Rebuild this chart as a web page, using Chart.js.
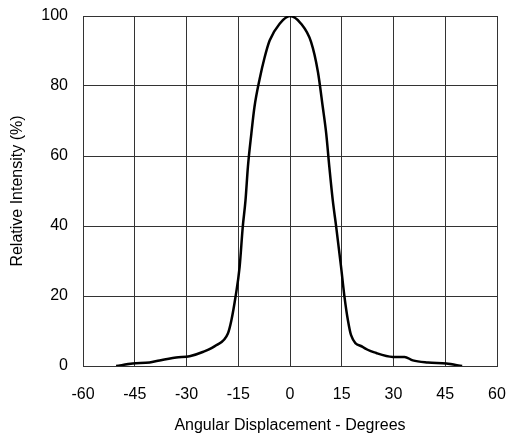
<!DOCTYPE html>
<html>
<head>
<meta charset="utf-8">
<script src="https://cdn.jsdelivr.net/npm/chart.js@4/dist/chart.umd.min.js"></script>
<style>
  html, body { margin: 0; padding: 0; background: #fff; }
  #wrap { width: 509px; height: 439px; }
</style>
</head>
<body>
<div id="wrap"><canvas id="c" width="509" height="439"></canvas></div>
<script>
const angles = [-50.4, -45.6, -40.7, -37.8, -33.0, -29.1, -25.3, -21.4, -18.0, -17.0, -15.8, -14.6, -13.7, -12.9, -12.2, -11.2, -10.3, -8.8, -7.4, -5.9, -3.0, 0, 3.2, 6.1, 8.1, 9.5, 10.5, 11.4, 12.4, 13.4, 14.8, 15.8, 16.8, 17.7, 21.1, 25.0, 29.8, 33.2, 35.6, 40.0, 45.3, 49.9]
const intensity = [0, 0.7, 1.0, 1.6, 2.4, 2.8, 4.0, 5.9, 9.3, 13, 19.7, 28.3, 39.7, 47.3, 56.9, 66.4, 74, 82, 88, 93, 97.8, 100, 97.8, 92.6, 84, 74, 66.4, 56.9, 47.3, 39.7, 28.3, 19.7, 13, 8.8, 5.4, 3.7, 2.6, 2.6, 1.6, 1.0, 0.7, 0]
const xTicks = [-60, -45, -30, -15, 0, 15, 30, 45, 60]
const yTicks = [0, 20, 40, 60, 80, 100]

const font = { family: "'Liberation Sans', Arial, sans-serif", size: 16 }
const gridColor = "#333"

new Chart(document.getElementById("c").getContext("2d"), {
  type: "line",
  data: {
    datasets: [
      {
        data: angles.map((a, i) => ({ x: a, y: intensity[i] })),
        borderColor: "#000",
        borderWidth: 2.5,
        pointRadius: 0,
        cubicInterpolationMode: "monotone",
        fill: false
      }
    ]
  },
  options: {
    responsive: false,
    animation: false,
    layout: { padding: { top: 16, right: 12, left: 0, bottom: 0 } },
    plugins: { legend: { display: false }, tooltip: { enabled: false } },
    scales: {
      x: {
        type: "linear",
        min: xTicks[0],
        max: xTicks[xTicks.length - 1],
        afterBuildTicks: (s) => { s.ticks = xTicks.map((v) => ({ value: v })) },
        afterFit: (s) => {
          s.height = 73
          s.paddingLeft = 0
          s.paddingRight = 0
        },
        grid: { color: gridColor, lineWidth: 1, drawTicks: false },
        border: { color: gridColor },
        ticks: { color: "#000", font: font, padding: 19, maxRotation: 0 },
        title: {
          display: true,
          text: "Angular Displacement - Degrees",
          color: "#000",
          font: font,
          padding: { top: 0, bottom: 4 }
        }
      },
      y: {
        min: yTicks[0],
        max: yTicks[yTicks.length - 1],
        afterBuildTicks: (s) => { s.ticks = yTicks.map((v) => ({ value: v })) },
        afterFit: (s) => {
          s.width = 83
          s.paddingTop = 0
          s.paddingBottom = 0
        },
        grid: { color: gridColor, lineWidth: 1, drawTicks: false },
        border: { color: gridColor },
        ticks: { color: "#000", font: font, padding: 15 },
        title: {
          display: true,
          text: "Relative Intensity (%)",
          color: "#000",
          font: font,
          padding: { top: 8, bottom: 0 }
        }
      }
    }
  }
})
</script>
</body>
</html>
